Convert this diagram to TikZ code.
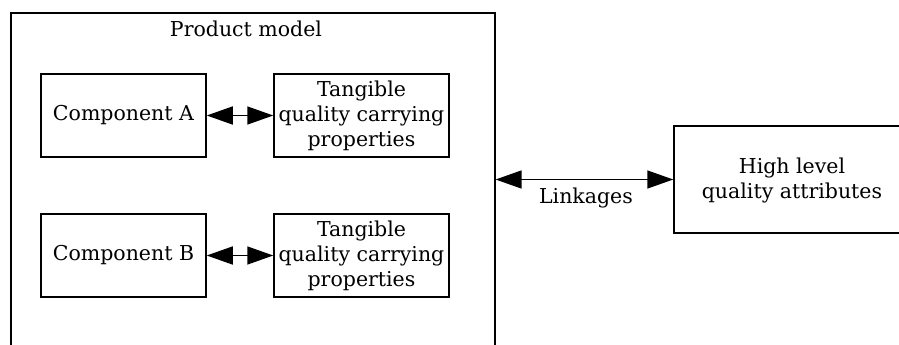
\documentclass[tikz,border=0pt]{standalone}
\usepackage{fontspec}
\setmainfont{DejaVu Serif}
\usetikzlibrary{arrows.meta}
\begin{document}
\begin{tikzpicture}[x=1pt,y=-1pt,
  every node/.style={font=\fontsize{20.5}{25}\selectfont, inner sep=0pt, align=center},
  boxn/.style={draw, line width=1.5pt, minimum height=83pt},
  link/.style={line width=1.5pt, {Triangle[length=26pt,width=18pt]}-{Triangle[length=26pt,width=18pt]}}]
\useasboundingbox (0,0) rectangle (899,345);
\clip (0,0) rectangle (899,345);
\fill[white] (0,0) rectangle (899,345);
\node[draw, line width=1.6pt, minimum width=484pt, minimum height=400pt, anchor=north west] (outer) at (10,12) {};
\node (title) at (246,29) {Product model};
\node[boxn, minimum width=165pt] (ca) at (123.5,115.5) {Component A};
\node[boxn, minimum width=175pt] (ta) at (361.5,115.5) {Tangible\\quality carrying\\properties};
\node[boxn, minimum width=165pt] (cb) at (123.5,255.5) {Component B};
\node[boxn, minimum width=175pt] (tb) at (361.5,255.5) {Tangible\\quality carrying\\properties};
\node[boxn, minimum width=236pt, minimum height=107pt] (hl) at (792,179.5) {};
\node (hlt) at (792,180) {High level\\quality attributes};
\node (lk) at (586,198) {Linkages};
\draw[link] (ca.east) -- (ta.west);
\draw[link] (cb.east) -- (tb.west);
\coordinate (oe) at (outer.east |- hl.west);
\draw[link] (oe) -- (hl.west);
\end{tikzpicture}
\end{document}
